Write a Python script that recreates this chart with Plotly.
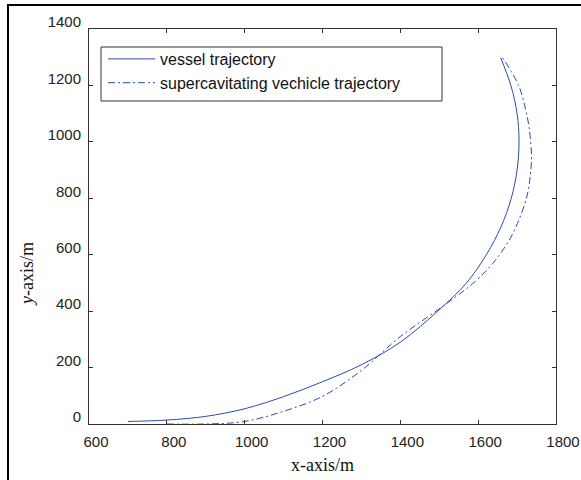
import plotly.graph_objects as go

# vessel trajectory (solid)
vessel_x = [700, 800, 900, 1000, 1100, 1200, 1300, 1400, 1500, 1570, 1621, 1659, 1685, 1700, 1705, 1700, 1684, 1658]
vessel_y = [9, 14, 27, 54, 97, 150, 210, 290, 405, 500, 600, 700, 800, 900, 1000, 1100, 1200, 1298]

# supercavitating vehicle trajectory (dash-dot)
vehicle_x = [800, 900, 1000, 1100, 1200, 1300, 1400, 1510, 1593, 1638, 1670, 1694, 1724, 1734, 1737, 1731, 1721, 1704, 1663]
vehicle_y = [0, 0, 9, 45, 98, 190, 310, 418, 506, 570, 630, 689, 800, 880, 950, 1050, 1120, 1200, 1298]

x_ticks = [600, 800, 1000, 1200, 1400, 1600, 1800]
y_ticks = [0, 200, 400, 600, 800, 1000, 1200, 1400]

LINE = "#2B4BB0"

fig = go.Figure()
fig.add_trace(go.Scatter(x=vessel_x, y=vessel_y, mode="lines", name="vessel trajectory",
                         line=dict(color=LINE, width=1, shape="spline", smoothing=1)))
fig.add_trace(go.Scatter(x=vehicle_x, y=vehicle_y, mode="lines", name="supercavitating vechicle trajectory",
                         line=dict(color=LINE, width=1, dash="7px,3px,2px,3px", shape="spline", smoothing=1)))

W, H = 581, 480
L, R, T, B = 89, 556, 29, 424
pw, ph = R - L, B - T

def px_x(p):
    return (p - L) / pw

def px_y(p):
    return (B - p) / ph

axis_common = dict(showgrid=False, zeroline=False, showline=True, linecolor="#333333", linewidth=1,
                   mirror="ticks", ticks="inside", ticklen=4, tickcolor="#333333", automargin=False,
                   tickfont=dict(family="Liberation Sans, Arial", size=15, color="#222222"))

fig.update_layout(
    width=W, height=H,
    margin=dict(l=L, r=W - R, t=T, b=H - B, autoexpand=False),
    paper_bgcolor="white", plot_bgcolor="white",
    showlegend=True,
    legend=dict(x=px_x(103), y=px_y(42), xanchor="left", yanchor="top",
                bgcolor="rgba(0,0,0,0)", borderwidth=0,
                font=dict(family="Liberation Sans, Arial", size=16, color="#111111"),
                itemwidth=47, tracegroupgap=0),
    xaxis=dict(range=[600, 1800], tickvals=x_ticks, ticktext=[str(v) for v in x_ticks],
               ticklabelshift=7, ticklabelstandoff=4, **axis_common),
    yaxis=dict(range=[0, 1400], tickvals=y_ticks, ticktext=[str(v) for v in y_ticks],
               ticklabelshift=-7, ticklabelstandoff=4, **axis_common),
    shapes=[
        dict(type="rect", xref="paper", yref="paper", x0=px_x(101), x1=px_x(442),
             y0=px_y(101), y1=px_y(47), line=dict(color="#333333", width=1), fillcolor="white",
             layer="below"),
        dict(type="path", xref="paper", yref="paper",
             path=f"M {px_x(8)} {px_y(480)} L {px_x(8)} {px_y(5)} L {px_x(581)} {px_y(5)}",
             line=dict(color="black", width=2)),
    ],
    annotations=[
        dict(text="x-axis/m", xref="paper", yref="paper", x=0.5, y=px_y(465),
             xanchor="center", yanchor="middle", showarrow=False,
             font=dict(family="Liberation Serif, Times New Roman", size=18, color="#111111")),
        dict(text="<i>y</i>-axis/m", xref="paper", yref="paper", x=px_x(27), y=px_y(274),
             xanchor="center", yanchor="middle", showarrow=False, textangle=-90,
             font=dict(family="Liberation Serif, Times New Roman", size=18, color="#111111")),
    ],
)

fig.write_html("out.html", config={"staticPlot": True, "displayModeBar": False})
